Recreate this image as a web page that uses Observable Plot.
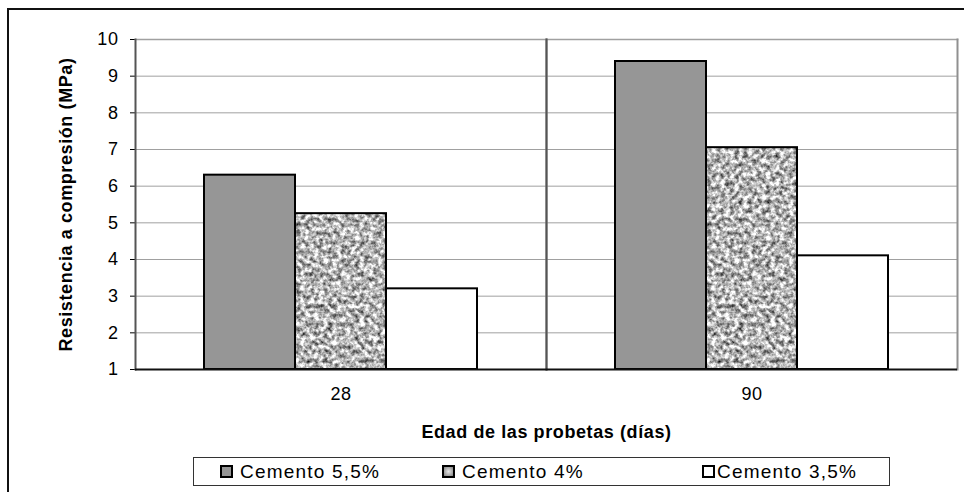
<!DOCTYPE html>
<html>
<head>
<meta charset="utf-8">
<script src="https://cdn.jsdelivr.net/npm/d3@7"></script>
<script src="https://cdn.jsdelivr.net/npm/@observablehq/plot@0.6"></script>
<style>
  body { margin: 0; background: #fff; font-family: "Liberation Sans", Arial, sans-serif; }
  #chart { position: relative; width: 964px; height: 492px; overflow: hidden; background: #fff; }
  #chart svg { position: absolute; left: 0; top: 0; }
  #outline { position: absolute; left: 7px; top: 8px; width: 1200px; height: 1200px;
             border-left: 2px solid #111; border-top: 2px solid #111; }
  #legend { position: absolute; left: 193px; top: 457px; width: 697px; height: 29px;
            border: 1px solid #333; box-sizing: border-box; font-size: 19px; color: #000;
            letter-spacing: 1.2px; }
  .item { position: absolute; top: 2px; line-height: 23px; white-space: nowrap; }
  .sw { display: inline-block; width: 9px; height: 9px; border: 2px solid #000;
        vertical-align: 0px; margin-right: 7px; }
  #chart svg text { font-size: 18px; letter-spacing: 0.6px; }
  g[aria-label="fx-axis label"] text, g[aria-label="y-axis label"] text {
    font-weight: bold; font-size: 18px; letter-spacing: 1.2px; }
</style>
</head>
<body>
<div id="chart">
  <div id="outline"></div>
</div>
<script>
// Compressive strength by specimen age and cement content
const ages = ["28", "90"];
const series = ["Cemento 5,5%", "Cemento 4%", "Cemento 3,5%"];
const cemento55 = [6.3, 9.4];
const cemento4 = [5.25, 7.05];
const cemento35 = [3.2, 4.1];
const yTicks = [1, 2, 3, 4, 5, 6, 7, 8, 9, 10];
const baseline = 1;

const fills = ["#969696", "url(#speckle)", "#ffffff"];
const valuesBySeries = [cemento55, cemento4, cemento35];

const rows = [];
ages.forEach((age, i) => {
  series.forEach((s, j) => rows.push({age, series: s, value: valuesBySeries[j][i]}));
});

const font = '"Liberation Sans", Arial, sans-serif';

const svg = Plot.plot({
  width: 964,
  height: 450,
  marginLeft: 134,
  marginRight: 7,
  marginTop: 39,
  marginBottom: 81,
  style: {fontFamily: font, fontSize: "18px", color: "#000", background: "transparent", overflow: "visible"},
  fx: {domain: ages, padding: 0, axis: "bottom", tickSize: 0, tickPadding: 18,
       label: "Edad de las probetas (días)", labelAnchor: "center", labelOffset: 68},
  x: {domain: series, axis: null, paddingInner: 0, paddingOuter: 0.75},
  y: {domain: [1, 10], ticks: yTicks, tickSize: 5, tickPadding: 12,
      label: "Resistencia a compresión (MPa)", labelAnchor: "center", labelArrow: "none", labelOffset: 76},
  color: {type: "ordinal", domain: series, range: fills},
  marks: [
    Plot.ruleY(yTicks.filter(t => t > 1 && t < 10), {stroke: "#a0a0a0", strokeWidth: 1}),
    Plot.frame({anchor: "top", stroke: "#a0a0a0", strokeWidth: 1.5}),
    Plot.frame({anchor: "right", stroke: "#909090", strokeWidth: 2}),
    Plot.frame({anchor: "left", stroke: "#555", strokeWidth: 2}),
    Plot.barY(rows, {fx: "age", x: "series", y1: baseline, y2: "value", fill: "series",
                     stroke: "#000", strokeWidth: 2}),
    Plot.ruleY([baseline], {stroke: "#111", strokeWidth: 2})
  ]
});

// Speckled granite-like texture used for the 4% series
const defs = d3.create("svg:defs");
const filter = defs.append("filter").attr("id", "grain")
  .attr("x", 0).attr("y", 0).attr("width", "100%").attr("height", "100%")
  .attr("color-interpolation-filters", "sRGB");
filter.append("feTurbulence").attr("type", "fractalNoise")
  .attr("baseFrequency", 0.22).attr("numOctaves", 3).attr("seed", 7);
filter.append("feColorMatrix").attr("type", "matrix")
  .attr("values", "1.5 0 0 0 -0.04  1.5 0 0 0 -0.04  1.5 0 0 0 -0.04  0 0 0 0 1");
const pattern = defs.append("pattern").attr("id", "speckle")
  .attr("patternUnits", "userSpaceOnUse").attr("width", 400).attr("height", 400);
pattern.append("rect").attr("width", 400).attr("height", 400).attr("filter", "url(#grain)");
svg.insertBefore(defs.node(), svg.firstChild);

document.getElementById("chart").appendChild(svg);

// Legend below the plot
const legend = document.createElement("div");
legend.id = "legend";
const swatchStyles = [
  "background:#969696",
  "background:radial-gradient(circle, #e8e8e8 0%, #a0a0a0 70%, #808080 100%)",
  "background:#fff"
];
const itemLeft = [26, 248, 508];
series.forEach((s, i) => {
  const item = document.createElement("div");
  item.className = "item";
  item.style.left = itemLeft[i] + "px";
  const sw = document.createElement("span");
  sw.className = "sw";
  sw.setAttribute("style", swatchStyles[i] + (i === 2 ? ";margin-right:2px" : ""));
  item.appendChild(sw);
  item.appendChild(document.createTextNode(s));
  legend.appendChild(item);
});
document.getElementById("chart").appendChild(legend);
</script>
</body>
</html>
